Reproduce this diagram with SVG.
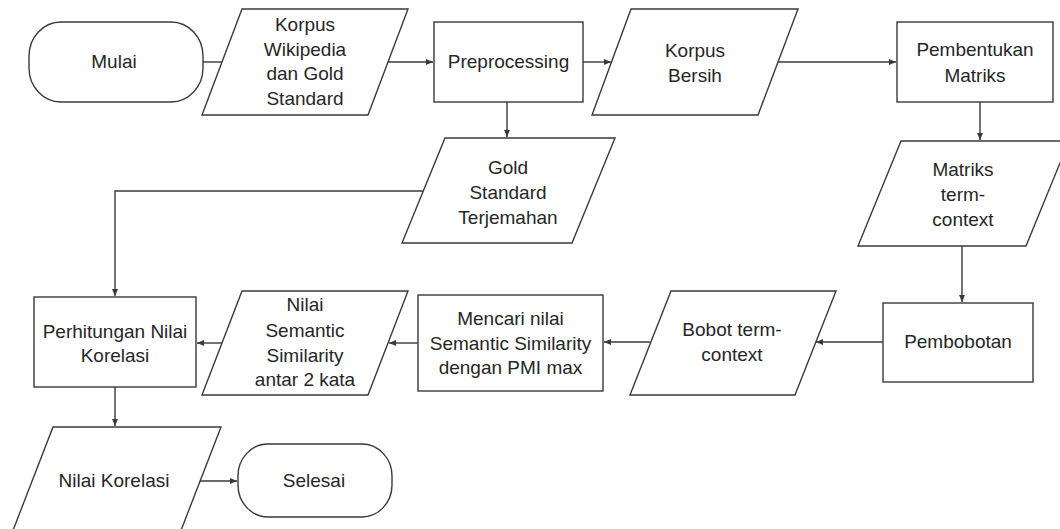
<svg xmlns="http://www.w3.org/2000/svg" width="1060" height="529" viewBox="0 0 1060 529">
<style>
.s{fill:#fff;stroke:#3a3a3a;stroke-width:1.4}
.t{font-family:"Liberation Sans",Arial,sans-serif;font-size:19px;fill:#262626;text-anchor:middle}
.c{fill:none;stroke:#3a3a3a;stroke-width:1.4}
</style>
<defs>
<marker id="a" markerWidth="8" markerHeight="8" refX="7" refY="4" orient="auto" markerUnits="userSpaceOnUse">
<path d="M0,1 L7,4 L0,7 Z" fill="#3a3a3a"/>
</marker>
</defs>
<rect width="1060" height="529" fill="#fff"/>
<g id="connectors">
<path class="c" d="M203,62 H222"/>
<path class="c" d="M388,62 H433" marker-end="url(#a)"/>
<path class="c" d="M583,62 H611" marker-end="url(#a)"/>
<path class="c" d="M778,62 H896" marker-end="url(#a)"/>
<path class="c" d="M980,102 V140" marker-end="url(#a)"/>
<path class="c" d="M962,246 V302" marker-end="url(#a)"/>
<path class="c" d="M883,342 H816" marker-end="url(#a)"/>
<path class="c" d="M650,342 H604" marker-end="url(#a)"/>
<path class="c" d="M418,343 H389" marker-end="url(#a)"/>
<path class="c" d="M223,343 H197" marker-end="url(#a)"/>
<path class="c" d="M507,102 V137" marker-end="url(#a)"/>
<path class="c" d="M423,191 H115 V296" marker-end="url(#a)"/>
<path class="c" d="M115,387 V426" marker-end="url(#a)"/>
<path class="c" d="M197,481 H237" marker-end="url(#a)"/>
</g>
<g id="mulai">
<rect class="s" x="29" y="22" width="174" height="80" rx="32" ry="34"/>
<text class="t" x="114" y="68">Mulai</text>
</g>
<g id="korpus-wikipedia">
<polygon class="s" points="242,9 408,9 368,115 202,115"/>
<text class="t" x="305" y="31">Korpus</text>
<text class="t" x="305" y="55.5">Wikipedia</text>
<text class="t" x="305" y="80">dan Gold</text>
<text class="t" x="305" y="104.5">Standard</text>
</g>
<g id="preprocessing">
<rect class="s" x="434" y="22" width="149" height="80"/>
<text class="t" x="508.5" y="68">Preprocessing</text>
</g>
<g id="korpus-bersih">
<polygon class="s" points="631,9 798,9 758,115 592,115"/>
<text class="t" x="695" y="57">Korpus</text>
<text class="t" x="695" y="82">Bersih</text>
</g>
<g id="pembentukan-matriks">
<rect class="s" x="897" y="22" width="156" height="80"/>
<text class="t" x="975" y="56">Pembentukan</text>
<text class="t" x="975" y="82">Matriks</text>
</g>
<g id="gold-standard">
<polygon class="s" points="445,138 615,138 572,243 402,243"/>
<text class="t" x="508" y="174">Gold</text>
<text class="t" x="508" y="199">Standard</text>
<text class="t" x="508" y="224">Terjemahan</text>
</g>
<g id="matriks-term-context">
<polygon class="s" points="901,141 1069,141 1026,246 858,246"/>
<text class="t" x="963" y="176">Matriks</text>
<text class="t" x="963" y="201">term-</text>
<text class="t" x="963" y="226">context</text>
</g>
<g id="pembobotan">
<rect class="s" x="883" y="303" width="150" height="79"/>
<text class="t" x="958" y="348">Pembobotan</text>
</g>
<g id="bobot-term-context">
<polygon class="s" points="671,291 836,291 795,395 630,395"/>
<text class="t" x="732" y="336">Bobot term-</text>
<text class="t" x="732" y="361">context</text>
</g>
<g id="mencari">
<rect class="s" x="418" y="295" width="185" height="96"/>
<text class="t" x="510.5" y="325">Mencari nilai</text>
<text class="t" x="510.5" y="350">Semantic Similarity</text>
<text class="t" x="510.5" y="374">dengan PMI max</text>
</g>
<g id="nilai-semantic">
<polygon class="s" points="242,291 408,291 368,395 202,395"/>
<text class="t" x="305" y="311">Nilai</text>
<text class="t" x="305" y="337">Semantic</text>
<text class="t" x="305" y="362">Similarity</text>
<text class="t" x="305" y="386">antar 2 kata</text>
</g>
<g id="perhitungan">
<rect class="s" x="34" y="297" width="162" height="90"/>
<text class="t" x="115" y="338">Perhitungan Nilai</text>
<text class="t" x="115" y="362">Korelasi</text>
</g>
<g id="nilai-korelasi">
<polygon class="s" points="53,427 221,427 180,533 12,533"/>
<text class="t" x="114" y="487">Nilai Korelasi</text>
</g>
<g id="selesai">
<rect class="s" x="238" y="444" width="154" height="73" rx="30" ry="32"/>
<text class="t" x="314" y="487">Selesai</text>
</g>
</svg>
